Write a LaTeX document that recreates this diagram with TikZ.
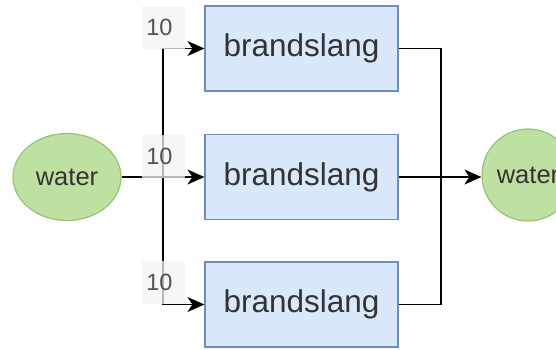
\documentclass[tikz,border=0pt]{standalone}
\usepackage{fontspec}
\setmainfont{Liberation Sans}
\usetikzlibrary{arrows.meta,shapes.geometric}
\definecolor{boxfill}{HTML}{DAE8FC}
\definecolor{boxline}{HTML}{6C8EBF}
\definecolor{ovalfill}{RGB}{190,224,160}
\definecolor{ovalline}{RGB}{150,195,120}
\definecolor{labfill}{HTML}{F3F3F3}
\definecolor{txt}{HTML}{333333}
\tikzset{
  hose/.style={draw=boxline, fill=boxfill, line width=1.2pt,
    minimum width=193pt, minimum height=85pt, inner sep=0pt,
    text=txt, font=\fontsize{31.5}{34}\selectfont},
  source/.style={ellipse, draw=ovalline, fill=ovalfill, line width=1.2pt,
    inner sep=0pt, text=txt, font=\fontsize{25.5}{29}\selectfont},
  flow/.style={line width=1.5pt, black},
  arrowed/.style={-{Stealth[length=17pt,width=15pt,inset=5pt]}},
  amount/.style={fill=labfill, fill opacity=0.75, text opacity=1,
    text=txt!85, minimum width=43pt, minimum height=43pt, inner sep=0pt,
    font=\fontsize{23.5}{26}\selectfont},
}
\begin{document}
\begin{tikzpicture}[x=1pt,y=-1pt]
\useasboundingbox (0,0) rectangle (556,349);

% endpoints
\node[source, minimum width=108pt, minimum height=87pt] (wl) at (67,177) {water};
\node[source, minimum width=92pt, minimum height=92pt] (wr) at (528,175) {water};

% hoses
\node[hose] (b1) at (301.5,48.5) {brandslang};
\node[hose] (b2) at (301.5,177) {brandslang};
\node[hose] (b3) at (301.5,304.5) {brandslang};

% junctions
\coordinate (jl) at (163,177);
\coordinate (jr) at (441,177);

% supply side
\draw[flow] (wl.east) -- (jl);
\draw[flow, arrowed] (jl) |- (b1.west);
\draw[flow, arrowed] (jl) -- (b2.west);
\draw[flow, arrowed] (jl) |- (b3.west);

% discharge side
\draw[flow] (b1.east) -| (jr);
\draw[flow] (b3.east) -| (jr);
\draw[flow, arrowed] (b2.east) -- (wr.west |- b2.east);

% flow amounts
\node[amount] (l1) at (163.5,27) {10\kern8pt};
\node[amount] (l2) at (163.5,156) {10\kern8pt};
\node[amount] (l3) at (163.5,282) {10\kern8pt};
\end{tikzpicture}
\end{document}
